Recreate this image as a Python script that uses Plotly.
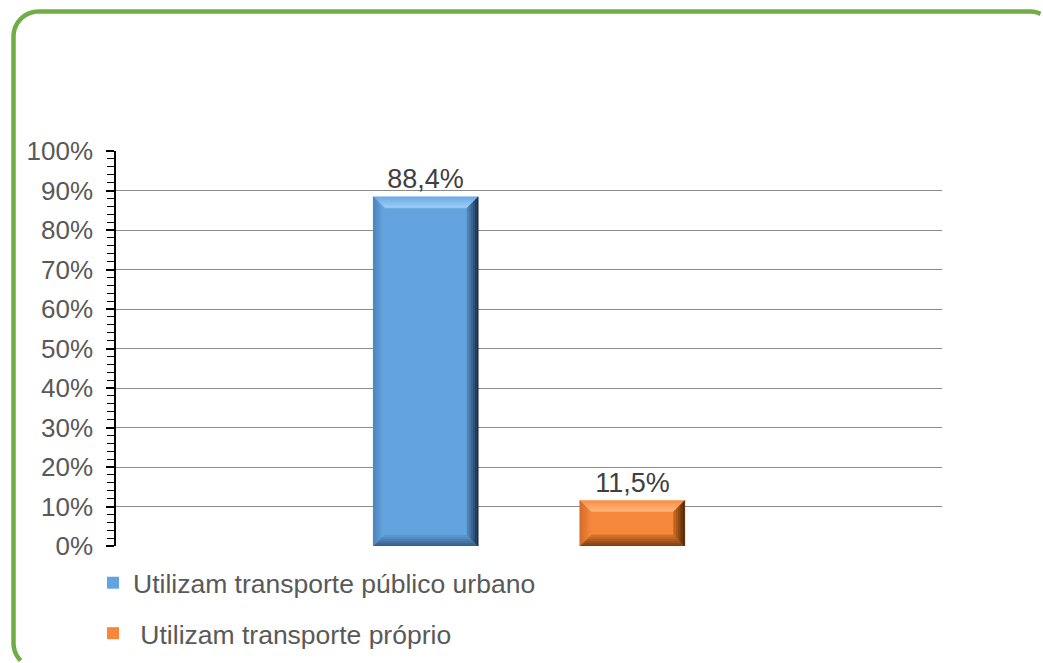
import math
import plotly.graph_objects as go

# ---- data ----
series_names = ["Utilizam transporte público urbano", "\u00a0Utilizam transporte próprio"]
series_values = [0.884, 0.115]
series_slots = [1, 2]          # slot index along the x axis (4 slots: 0..3)
series_colors = ["#63A4E0", "#F7883B"]

y_tick_values = [0, 0.1, 0.2, 0.3, 0.4, 0.5, 0.6, 0.7, 0.8, 0.9, 1.0]
y_tick_labels = ["0%", "10%", "20%", "30%", "40%", "50%", "60%", "70%", "80%", "90%", "100%"]

# bevel shading per series: (outer edge, inner edge) for each side
bevel_colors = [
    {"top": ("#6FAEE8", "#9ACBF5"), "left": ("#4F86BB", "#66A4DD"),
     "right": ("#1C3048", "#4F83B6"), "bottom": ("#35608A", "#5A94CB")},
    {"top": ("#F8924A", "#FDB478"), "left": ("#D46D27", "#F4853A"),
     "right": ("#4F280C", "#C0651F"), "bottom": ("#7E4013", "#D27128")},
]

# ---- geometry ----
FIG_W, FIG_H = 1043, 663
M_L, M_R, M_T, M_B = 116, 101, 151, 117
PLOT_W = FIG_W - M_L - M_R
PLOT_H = FIG_H - M_T - M_B
X_RANGE = [-0.5, 3.5]
Y_RANGE = [0, 1.0]
BAR_W = 0.508
BEVEL_PX = 11
BEVEL_STEPS = 6

ux = (X_RANGE[1] - X_RANGE[0]) / PLOT_W
uy = (Y_RANGE[1] - Y_RANGE[0]) / PLOT_H

FONT = "Liberation Sans, Arial, sans-serif"

fig = go.Figure()
for i, (name, val, slot, col) in enumerate(zip(series_names, series_values, series_slots, series_colors)):
    fig.add_trace(go.Bar(
        x=[slot], y=[val], name=name, width=BAR_W,
        marker=dict(color=col, line=dict(width=0)),
        texttemplate="%{y:.1%}", textposition="outside",
        textfont=dict(family=FONT, size=27, color="#404040"),
        cliponaxis=False, legendgroup=f"g{i}", hoverinfo="skip",
    ))


def frame(x0, y0, x1, y1, d):
    return (x0 + d * ux, y0 + d * uy, x1 - d * ux, y1 - d * uy)


def poly(pts, close=True):
    s = "M" + " L".join(f"{x:.5f},{y:.5f}" for x, y in pts)
    return s + (" Z" if close else "")


def mix(c1, c2, t):
    a = [int(c1[k:k + 2], 16) for k in (1, 3, 5)]
    b = [int(c2[k:k + 2], 16) for k in (1, 3, 5)]
    return "#" + "".join(f"{round(p + (q - p) * t):02X}" for p, q in zip(a, b))


shapes = []
# bevelled edges on each bar, shaded from the outer edge inwards
for slot, val, cols in zip(series_slots, series_values, bevel_colors):
    bx0, bx1 = slot - BAR_W / 2, slot + BAR_W / 2
    by0, by1 = 0.0, val
    for k in range(BEVEL_STEPS):
        d0 = BEVEL_PX * k / BEVEL_STEPS
        d1 = BEVEL_PX * (k + 1) / BEVEL_STEPS
        t = k / (BEVEL_STEPS - 1)
        L0, B0, R0, T0 = frame(bx0, by0, bx1, by1, d0)
        L1, B1, R1, T1 = frame(bx0, by0, bx1, by1, d1)
        sides = {
            "top": [(L0, T0), (R0, T0), (R1, T1), (L1, T1)],
            "bottom": [(L0, B0), (R0, B0), (R1, B1), (L1, B1)],
            "left": [(L0, T0), (L1, T1), (L1, B1), (L0, B0)],
            "right": [(R0, T0), (R1, T1), (R1, B1), (R0, B0)],
        }
        for side, pts in sides.items():
            c = mix(cols[side][0], cols[side][1], t)
            shapes.append(dict(
                type="path", xref="x", yref="y", path=poly(pts),
                fillcolor=c, line=dict(width=0.6, color=c), layer="above",
            ))


# rounded green frame around the chart; only the part inside the page is traced
def fx(px):
    return (px - M_L) / PLOT_W


def fy(py):
    return (FIG_H - M_B - py) / PLOT_H


bl, bt, rad = 13.5, 11.5, 25
right_corner_cx = 1030
bottom_corner_cy = 643
limit_x, limit_y = FIG_W - 2.5, FIG_H - 2.5

pts = []
# bottom-left corner (partly visible), going up
cx, cy = bl + rad, bottom_corner_cy
phi_max = math.degrees(math.asin(min(1.0, (limit_y - cy) / rad)))
for a in [phi_max - phi_max * k / 12 for k in range(13)]:
    r = math.radians(a)
    pts.append((cx - rad * math.cos(r), cy + rad * math.sin(r)))
# left edge and top-left corner
cx, cy = bl + rad, bt + rad
for a in [180 + 90 * k / 16 for k in range(17)]:
    r = math.radians(a)
    pts.append((cx + rad * math.cos(r), cy + rad * math.sin(r)))
# top edge and top-right corner (partly visible)
cx, cy = right_corner_cx, bt + rad
th_max = math.degrees(math.asin(min(1.0, (limit_x - cx) / rad)))
for a in [th_max * k / 8 for k in range(9)]:
    r = math.radians(a)
    pts.append((cx + rad * math.sin(r), cy - rad * math.cos(r)))

frame_path = poly([(fx(x), fy(y)) for x, y in pts], close=False)
shapes.append(dict(type="path", xref="paper", yref="paper", path=frame_path,
                   line=dict(color="#71AD47", width=4.5), layer="below"))

fig.update_layout(
    width=FIG_W, height=FIG_H,
    margin=dict(l=M_L, r=M_R, t=M_T, b=M_B, pad=0, autoexpand=False),
    paper_bgcolor="white", plot_bgcolor="white",
    separators=",.",
    font=dict(family=FONT, size=26, color="#595959"),
    showlegend=True,
    legend=dict(
        x=fx(93), y=fy(559), xanchor="left", yanchor="top",
        orientation="v", font=dict(family=FONT, size=26.5, color="#595959"),
        tracegroupgap=13, bgcolor="rgba(0,0,0,0)", itemclick=False,
    ),
    shapes=shapes,
    xaxis=dict(range=X_RANGE, showticklabels=False, showgrid=False,
               zeroline=False, showline=False, ticks="", fixedrange=True),
    yaxis=dict(
        range=Y_RANGE, tickvals=y_tick_values, ticktext=y_tick_labels,
        showgrid=True, gridcolor="#8C8C8C", gridwidth=1,
        zeroline=False, showline=True, linecolor="black", linewidth=1.5,
        ticks="outside", ticklen=8, tickwidth=1.5, tickcolor="black",
        minor=dict(dtick=0.02, ticks="outside", ticklen=7, tickwidth=1.2,
                   tickcolor="black", showgrid=False),
        tickfont=dict(family=FONT, size=26, color="#595959"),
        ticklabelstandoff=8,
        fixedrange=True,
    ),
    bargap=0,
)

fig.write_html("out.html", config={"displayModeBar": False})
